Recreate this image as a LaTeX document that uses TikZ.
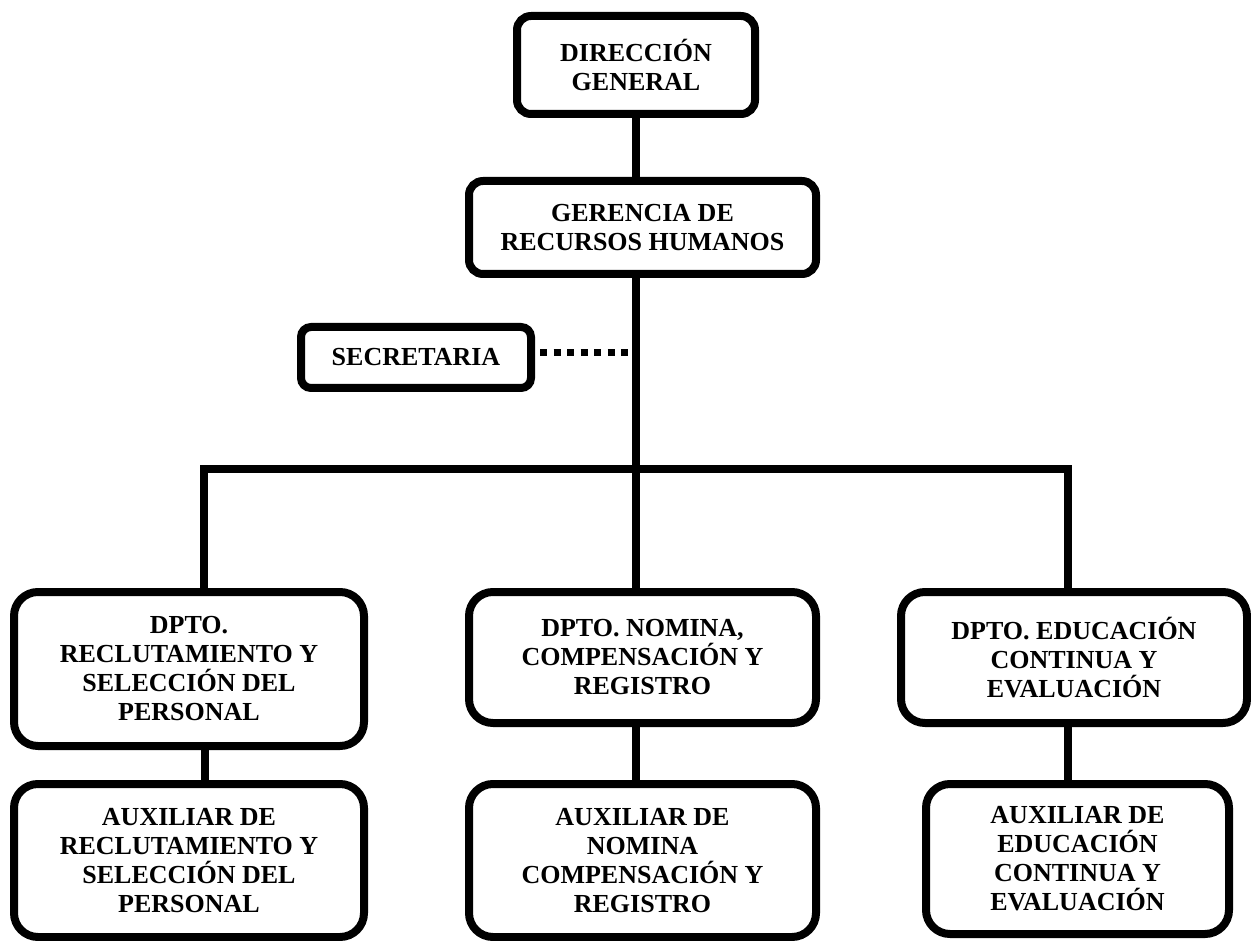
\documentclass[tikz,border=0pt]{standalone}
\usepackage{fontspec}
\setmainfont{Liberation Serif}
\begin{document}
\begin{tikzpicture}[x=1pt,y=-1pt,
  box/.style={draw, line width=8pt, rounded corners=#1, align=center,
    inner sep=0pt, outer sep=0pt, font=\bfseries\fontsize{26}{29}\selectfont},
  box/.default=16pt,
  conn/.style={line width=8pt},
  dots/.style={line width=7pt, dash pattern=on 7pt off 6.5pt}]
\fill[white] (0,0) rectangle (1251,941);
\useasboundingbox (0,0) rectangle (1251,941);

\node[box=14pt, minimum width=238pt, minimum height=98pt] (dir) at (636,65) {DIRECCIÓN\\GENERAL};
\node[box=14pt, minimum width=347pt, minimum height=93pt] (ger) at (642.5,227.5) {GERENCIA DE\\RECURSOS HUMANOS};
\node[box=10pt, minimum width=230pt, minimum height=61pt] (sec) at (416,357.5) {SECRETARIA};

\node[box=24pt, minimum width=350pt, minimum height=154pt] (d1) at (189,669) {DPTO.\\RECLUTAMIENTO Y\\SELECCIÓN DEL\\PERSONAL};
\node[box=24pt, minimum width=347pt, minimum height=131pt] (d2) at (642.5,657.5) {DPTO. NOMINA,\\COMPENSACIÓN Y\\REGISTRO};
\node[box=24pt, minimum width=346pt, minimum height=131pt] (d3) at (1074,657.5) {DPTO. EDUCACIÓN\\CONTINUA Y\\EVALUACIÓN};

\node[box=24pt, minimum width=350pt, minimum height=153pt] (a1) at (189,860.5) {AUXILIAR DE\\RECLUTAMIENTO Y\\SELECCIÓN DEL\\PERSONAL};
\node[box=24pt, minimum width=347pt, minimum height=153pt] (a2) at (642.5,860.5) {AUXILIAR DE\\NOMINA\\COMPENSACIÓN Y\\REGISTRO};
\node[box=24pt, minimum width=303pt, minimum height=150pt] (a3) at (1077.5,859) {AUXILIAR DE\\EDUCACIÓN\\CONTINUA Y\\EVALUACIÓN};

\coordinate (Lc) at (204,469);
\coordinate (Mc) at (636,469);
\coordinate (Rc) at (1068,469);
\coordinate (dotend) at (628,353);
\coordinate (dotstart) at ([xshift=9pt]sec.east);

\draw[conn] (dir.south) -- (dir.south |- ger.north);
\draw[conn] (Mc |- ger.south) -- (Mc |- d2.north);
\draw[conn] (Lc |- d1.north) -- (Lc) -- (Rc) -- (Rc |- d3.north);
\draw[conn] ([xshift=1pt]Lc |- d1.south) -- ([xshift=1pt]Lc |- a1.north);
\draw[conn] (Mc |- d2.south) -- (Mc |- a2.north);
\draw[conn] (Rc |- d3.south) -- (Rc |- a3.north);
\draw[dots] (dotstart |- dotend) -- (dotend);
\end{tikzpicture}
\end{document}
